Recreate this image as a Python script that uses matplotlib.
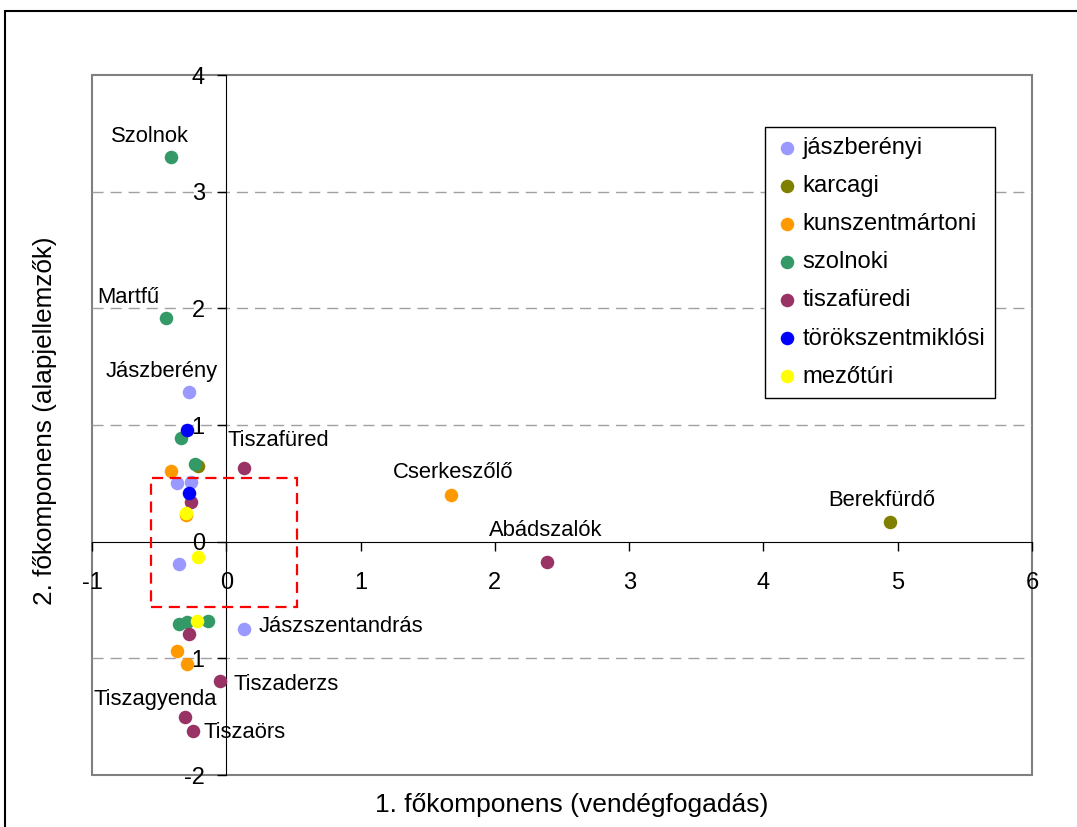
import matplotlib
matplotlib.use("Agg")
import matplotlib.pyplot as plt
from matplotlib.patches import Rectangle

plt.rcParams['font.family'] = ['Liberation Sans', 'DejaVu Sans']

series_names = ["jászberényi", "karcagi", "kunszentmártoni", "szolnoki",
                "tiszafüredi", "törökszentmiklósi", "mezőtúri"]
series_colors = ["#9999FF", "#808000", "#FF9900", "#339966",
                 "#993366", "#0000FF", "#FFFF00"]

jaszberenyi_x = [-0.28, -0.37, -0.26, -0.35, 0.13]
jaszberenyi_y = [1.28, 0.50, 0.51, -0.19, -0.75]
karcagi_x = [4.94, -0.21]
karcagi_y = [0.17, 0.65]
kunszentmartoni_x = [-0.41, -0.30, 1.67, -0.37, -0.29]
kunszentmartoni_y = [0.61, 0.23, 0.40, -0.94, -1.05]
szolnoki_x = [-0.41, -0.45, -0.34, -0.23, -0.35, -0.29, -0.134]
szolnoki_y = [3.30, 1.92, 0.89, 0.67, -0.705, -0.69, -0.68]
tiszafuredi_x = [0.13, -0.26, 2.39, -0.28, -0.05, -0.31, -0.25]
tiszafuredi_y = [0.63, 0.34, -0.17, -0.79, -1.19, -1.50, -1.62]
torokszentmiklosi_x = [-0.29, -0.28]
torokszentmiklosi_y = [0.96, 0.42]
mezoturi_x = [-0.30, -0.21, -0.22]
mezoturi_y = [0.25, -0.13, -0.68]

series_x = [jaszberenyi_x, karcagi_x, kunszentmartoni_x, szolnoki_x,
            tiszafuredi_x, torokszentmiklosi_x, mezoturi_x]
series_y = [jaszberenyi_y, karcagi_y, kunszentmartoni_y, szolnoki_y,
            tiszafuredi_y, torokszentmiklosi_y, mezoturi_y]

label_names = ["Szolnok", "Martfű", "Jászberény", "Tiszafüred", "Cserkeszőlő",
               "Abádszalók", "Berekfürdő", "Jászszentandrás", "Tiszaderzs",
               "Tiszagyenda", "Tiszaörs"]
label_x = [-0.57, -0.73, -0.48, 0.39, 1.69, 2.38, 4.88, 0.24, 0.05, -0.53, -0.17]
label_y = [3.47, 2.09, 1.46, 0.87, 0.59, 0.10, 0.35, -0.73, -1.22, -1.35, -1.64]
label_ha = ["center", "center", "center", "center", "center", "center",
            "center", "left", "left", "center", "left"]

xticks = [-1, 0, 1, 2, 3, 4, 5, 6]
yticks = [-2, -1, 0, 1, 2, 3, 4]

fig = plt.figure(figsize=(10.77, 8.27), dpi=100)
ax = fig.add_axes([92/1077, 1-775/827, 940/1077, 700/827])
ax.set_xlim(-1, 6)
ax.set_ylim(-2, 4)

for g in [-1, 1, 2, 3]:
    ax.axhline(g, color="#A0A0A0", lw=1.0, ls=(0, (8, 5)), zorder=1)

for nm, c, xs, ys in zip(series_names, series_colors, series_x, series_y):
    ax.scatter(xs, ys, s=95, color=c, label=nm, zorder=3, linewidths=0)

# dashed red rectangle
ax.add_patch(Rectangle((-0.56, -0.56), 1.09, 1.11, fill=False, ec="red",
                       lw=1.6, ls=(0, (5, 3)), zorder=4))

for t, x, y, ha in zip(label_names, label_x, label_y, label_ha):
    ax.text(x, y, t, ha=ha, va="center", fontsize=15.8, zorder=5)

for s in ["top", "right"]:
    ax.spines[s].set_visible(False)
ax.spines["left"].set_position(("data", 0))
ax.spines["bottom"].set_position(("data", 0))
ax.spines["left"].set_color("black")
ax.spines["bottom"].set_color("black")
ax.spines["left"].set_zorder(2)
ax.spines["bottom"].set_zorder(2)
ax.add_patch(Rectangle((0, 0), 1, 1, transform=ax.transAxes, fill=False,
                       ec="#808080", lw=1.5, zorder=0, clip_on=False))

ax.set_xticks(xticks)
ax.set_yticks(yticks)
ax.set_xticklabels([str(v) for v in xticks])
ax.set_yticklabels([str(v) for v in yticks])
ax.tick_params(axis="both", direction="out", length=6.5, width=1, labelsize=17,
               colors="black")
ax.tick_params(axis="x", pad=15)
ax.tick_params(axis="y", pad=9)

fig.text((374+770)/2/1077, 1-805/827, "1. főkomponens (vendégfogadás)",
         ha="center", va="center", fontsize=19)
fig.text(45/1077, 1-421/827, "2. főkomponens (alapjellemzők)",
         ha="center", va="center", fontsize=18.8, rotation=90)

leg = ax.legend(loc="upper left", bbox_to_anchor=(0.716, 0.926), fontsize=17.1,
                frameon=True, fancybox=False, edgecolor="black", framealpha=1,
                handletextpad=0.15, borderpad=0.42, labelspacing=0.68,
                markerscale=1.0, handlelength=1.0, borderaxespad=0)
leg.get_frame().set_linewidth(1.0)
leg.set_zorder(6)

fig.add_artist(Rectangle((5/1077, -0.1), 1.2, 1.1 - 11/827, transform=fig.transFigure,
                         fill=False, ec="black", lw=1.5))

fig.savefig("out.png", dpi=100)
